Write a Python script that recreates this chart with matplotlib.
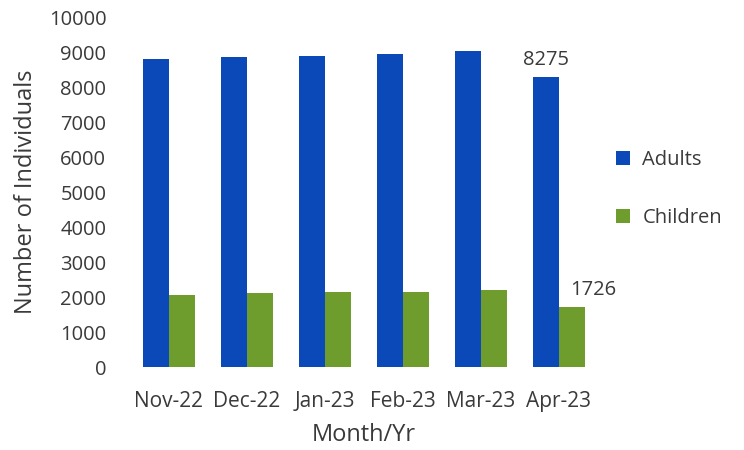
import matplotlib
matplotlib.use('Agg')
import matplotlib.pyplot as plt
import numpy as np

# Data
months = ['Nov-22', 'Dec-22', 'Jan-23', 'Feb-23', 'Mar-23', 'Apr-23']
adults = [8800, 8845, 8885, 8955, 9025, 8275]
children = [2065, 2110, 2130, 2140, 2190, 1726]

BLUE = '#0B49B8'
GREEN = '#6E9D2D'
TEXT = '#3a3a3a'

plt.rcParams['font.family'] = ['Open Sans', 'DejaVu Sans']

fig = plt.figure(figsize=(7.44, 4.5), dpi=100)
ax = fig.add_axes([0.1747, 0.1844, 0.6290, 0.7778])

x = np.arange(len(months))
w = 1 / 3
ax.bar(x - w / 2, adults, width=w, color=BLUE, label='Adults')
ax.bar(x + w / 2, children, width=w, color=GREEN, label='Children')

# Data labels on the last month only
ax.annotate(f'{adults[-1]}', xy=(x[-1] - w / 2, adults[-1]),
            xytext=(0, 5), textcoords='offset points',
            ha='center', va='bottom', fontsize=14.5, color=TEXT)
ax.annotate(f'{children[-1]}', xy=(x[-1] + w / 2, children[-1]),
            xytext=(15, 5), textcoords='offset points',
            ha='center', va='bottom', fontsize=14.5, color=TEXT)

ax.set_xlim(-0.5, len(months) - 0.5)
ax.set_ylim(0, 10000)
ax.set_yticks(range(0, 10001, 1000))
ax.set_xticks(x)
ax.set_xticklabels(months, fontsize=15)

for s in ax.spines.values():
    s.set_visible(False)
ax.tick_params(axis='both', length=0, colors=TEXT)
ax.tick_params(axis='y', labelsize=14.5, pad=17)
ax.tick_params(axis='x', pad=17)

ax.set_ylabel('Number of Individuals', fontsize=17, color=TEXT, labelpad=8)
ax.set_xlabel('Month/Yr', fontsize=17, color=TEXT, labelpad=8)

fig.legend(loc='upper left', bbox_to_anchor=(0.804, 0.707), frameon=False,
           fontsize=14.5, handlelength=0.7, handleheight=0.7,
           labelspacing=1.9, handletextpad=0.6, labelcolor=TEXT)

fig.savefig('out.png', dpi=100, facecolor='white')
